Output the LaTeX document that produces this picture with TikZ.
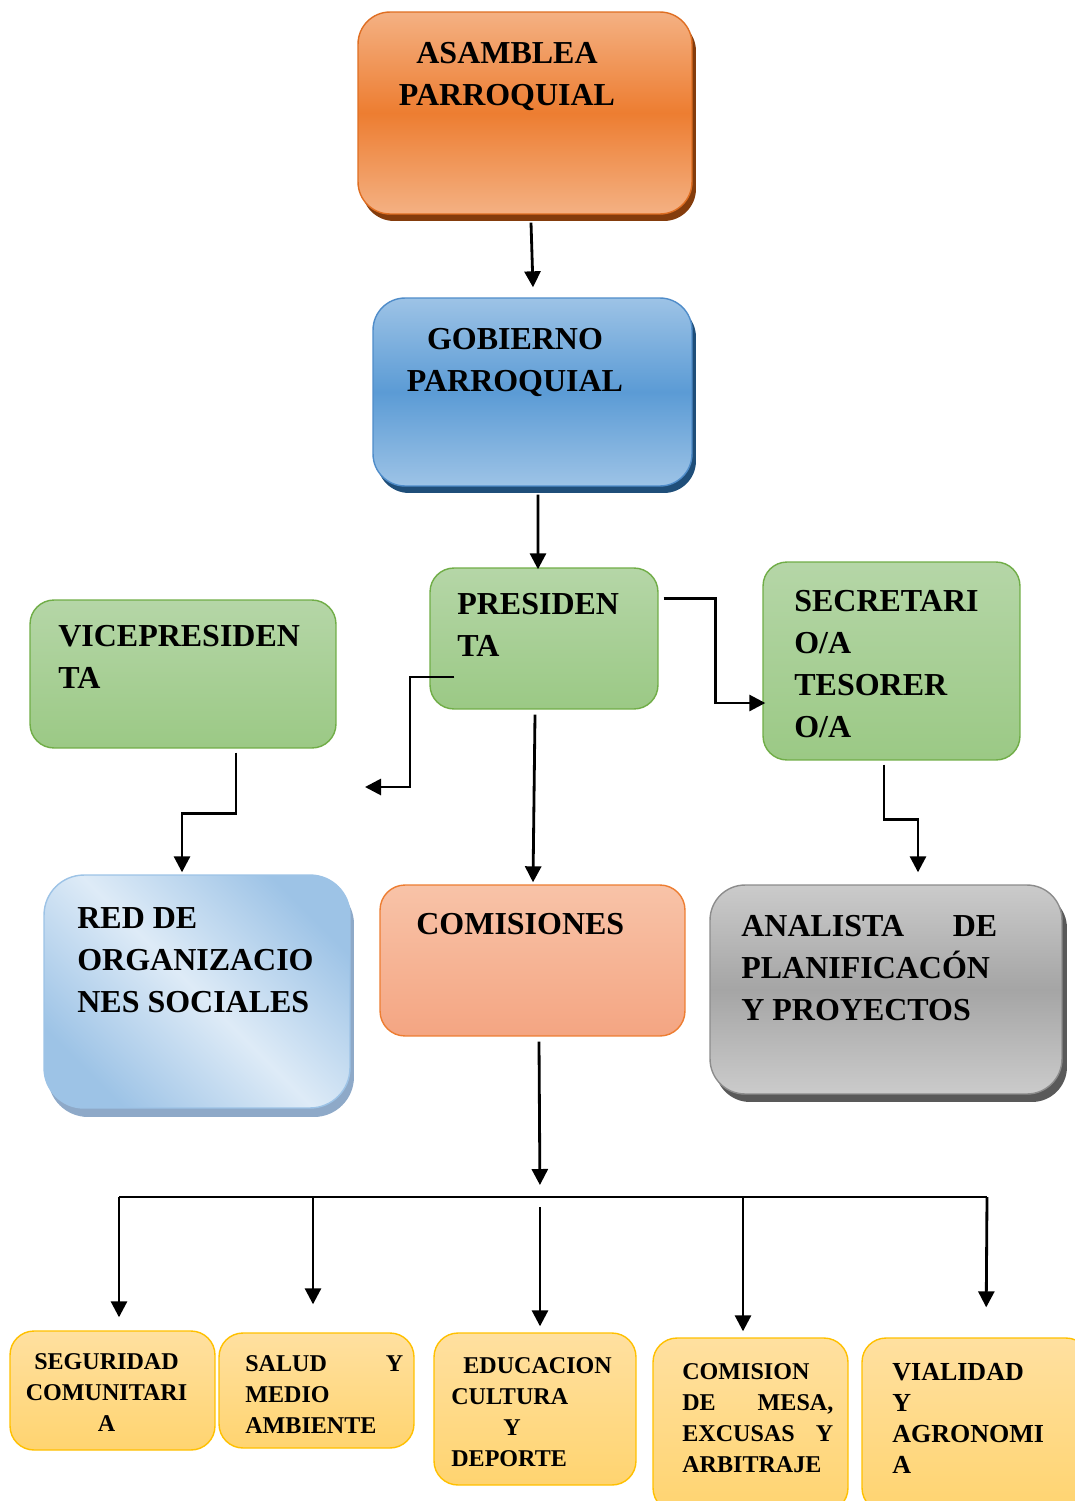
\documentclass[tikz,border=0pt]{standalone}
\usepackage{fontspec}
\setmainfont{Liberation Serif}
\usetikzlibrary{arrows.meta,calc,shadows}

\definecolor{naranjaClaro}{HTML}{F4B183}
\definecolor{naranja}{HTML}{ED7D31}
\definecolor{naranjaBorde}{HTML}{DF6E22}
\definecolor{naranjaSombra}{HTML}{843C0C}
\definecolor{azulClaro}{HTML}{9DC3E6}
\definecolor{azul}{HTML}{5B9BD5}
\definecolor{azulBorde}{HTML}{4F8CC9}
\definecolor{azulSombra}{HTML}{1F4E79}
\definecolor{verdeClaro}{HTML}{B5D6A7}
\definecolor{verde}{HTML}{9BC985}
\definecolor{verdeBorde}{HTML}{70AD47}
\definecolor{celeste}{HTML}{DEEBF7}
\definecolor{celesteOscuro}{HTML}{9DC3E6}
\definecolor{celesteSombra}{HTML}{8EA9C8}
\definecolor{salmonClaro}{HTML}{F8C3A8}
\definecolor{salmon}{HTML}{F4A582}
\definecolor{salmonBorde}{HTML}{ED7D31}
\definecolor{grisClaro}{HTML}{CBCBCB}
\definecolor{gris}{HTML}{A5A5A5}
\definecolor{grisBorde}{HTML}{8C8C8C}
\definecolor{grisSombra}{HTML}{595959}
\definecolor{amarilloClaro}{HTML}{FFE0A0}
\definecolor{amarillo}{HTML}{FFD470}
\definecolor{amarilloBorde}{HTML}{FFC000}

\begin{document}
\begin{tikzpicture}[x=0.02cm, y=-0.02cm,
    caja/.style={draw, inner sep=0pt, line width=0.8pt},
    cajaVerde/.style={caja, rounded corners=0.48cm, draw=verdeBorde, top color=verdeClaro, bottom color=verde},
    cajaAmarilla/.style={caja, rounded corners=0.48cm, draw=amarilloBorde, top color=amarilloClaro, bottom color=amarillo},
    conn/.style={line width=1.6pt, -{Triangle[length=0.32cm,width=0.32cm]}},
    linea/.style={line width=1.6pt},
    grande/.style={anchor=north west, inner sep=0pt, align=left, font=\fontsize{18.2}{23.9}\selectfont\bfseries},
    chica/.style={anchor=north west, inner sep=0pt, align=left, font=\fontsize{13.7}{17.6}\selectfont\bfseries}]
  \useasboundingbox (0,0) rectangle (1075,1501);

  % Cajas superiores
  \node[caja, rounded corners=0.64cm, minimum width=6.68cm, minimum height=4.04cm,
        draw=naranjaBorde, top color=naranjaClaro, bottom color=naranjaClaro, middle color=naranja,
        drop shadow={shadow xshift=0.08cm, shadow yshift=-0.14cm, fill=naranjaSombra, opacity=1}]
        (asamblea) at (525,113) {};
  \node[caja, rounded corners=0.64cm, minimum width=6.38cm, minimum height=3.76cm,
        draw=azulBorde, top color=azulClaro, bottom color=azulClaro, middle color=azul,
        drop shadow={shadow xshift=0.08cm, shadow yshift=-0.14cm, fill=azulSombra, opacity=1}]
        (gobierno) at (532.5,392) {};
  \node[cajaVerde, minimum width=4.56cm, minimum height=2.82cm] (presidenta) at (544,638.5) {};
  \node[cajaVerde, minimum width=6.12cm, minimum height=2.96cm] (vice) at (183,674) {};
  \node[cajaVerde, minimum width=5.14cm, minimum height=3.96cm] (secretaria) at (891.5,661) {};

  % Cajas del medio
  \node[caja, rounded corners=0.8cm, minimum width=6.12cm, minimum height=4.66cm,
        draw=celesteOscuro, top color=celesteOscuro, bottom color=celesteOscuro, middle color=celeste,
        shading angle=-45,
        drop shadow={shadow xshift=0.08cm, shadow yshift=-0.18cm, fill=celesteSombra, opacity=1}]
        (redorg) at (197,991.5) {};
  \node[caja, rounded corners=0.5cm, minimum width=6.1cm, minimum height=3.02cm,
        draw=salmonBorde, top color=salmonClaro, bottom color=salmon]
        (comisiones) at (532.5,960.5) {};
  \node[caja, rounded corners=0.7cm, minimum width=7.04cm, minimum height=4.18cm,
        draw=grisBorde, top color=grisClaro, bottom color=grisClaro, middle color=gris,
        drop shadow={shadow xshift=0.1cm, shadow yshift=-0.16cm, fill=grisSombra, opacity=1}]
        (analista) at (886,989.5) {};

  % Comisiones
  \node[cajaAmarilla, minimum width=4.1cm, minimum height=2.38cm] (seguridad) at (112.5,1390.5) {};
  \node[cajaAmarilla, minimum width=3.9cm, minimum height=2.3cm] (salud) at (316.5,1390.5) {};
  \node[cajaAmarilla, minimum width=4.04cm, minimum height=3.04cm] (educacion) at (535,1409) {};
  \node[cajaAmarilla, minimum width=3.9cm, minimum height=3.48cm] (comision) at (750.5,1425) {};
  \node[cajaAmarilla, minimum width=4.56cm, minimum height=3.48cm] (vialidad) at (976,1425) {};

  % Textos
  \node[grande, align=center, anchor=north] (asamblea-t) at (507,42) {ASAMBLEA\\PARROQUIAL};
  \node[grande, align=center, anchor=north] (gobierno-t) at (515,328) {GOBIERNO\\PARROQUIAL};
  \node[grande] (presidenta-t) at (457,593) {PRESIDEN\\TA};
  \node[grande] (vice-t) at (58,625) {VICEPRESIDEN\\TA};
  \node[grande] (secretaria-t) at (794,590) {SECRETARI\\O/A\\TESORER\\O/A};
  \node[grande] (redorg-t) at (77,907) {RED DE\\ORGANIZACIO\\NES SOCIALES};
  \node[grande] (comisiones-t) at (416,913) {COMISIONES};
  \node[grande] (analista-t) at (741,915) {\makebox[5.12cm][l]{ANALISTA\hfill DE}\\PLANIFICACÓN\\Y PROYECTOS};
  \node[chica, align=center, anchor=north] (seguridad-t) at (106.5,1353) {SEGURIDAD\\COMUNITARI\\A};
  \node[chica] (salud-t) at (245,1355) {\makebox[3.16cm][l]{SALUD\hfill Y}\\MEDIO\\AMBIENTE};
  \node[chica] (educacion-t) at (451,1357) {\hspace{0.24cm}EDUCACION\\CULTURA\\\hspace{1.04cm}Y\\DEPORTE};
  \node[chica] (comision-t) at (682,1363) {COMISION\\\makebox[3.02cm][l]{DE\hfill MESA,}\\\makebox[3.02cm][l]{EXCUSAS\hfill Y}\\ARBITRAJE};
  \node[chica, font=\fontsize{14.8}{17.6}\selectfont\bfseries] (vialidad-t) at (892,1363) {VIALIDAD\\Y\\AGRONOMI\\A};

  % Conectores
  \coordinate (vacio) at (365,787);
  \coordinate (b1) at (119,1197);
  \coordinate (b2) at (313,1197);
  \coordinate (b3) at (540,1197);
  \coordinate (b4) at (743,1197);
  \coordinate (b5) at (987,1197);

  \draw[conn] ($(asamblea.south)+(6,8)$) -- ($(gobierno.north)+(0.5,-10)$);
  \draw[conn] ($(gobierno.south)+(5.5,8)$) -- ($(presidenta.north)+(-6,2)$);
  \draw[conn] ($(presidenta.north east)+(5,31)$) -- ++(52,0) |- ($(secretaria.west)+(3,42)$);
  \draw[conn] ($(presidenta.west)+(25,38.5)$) -| ($(vacio)+(45,0)$) -- (vacio);
  \draw[conn] ($(presidenta.south)+(-9,5)$) -- ($(comisiones.north)+(0.5,-2)$);
  \draw[conn] ($(vice.south)+(53,4)$) -- ++(0,61) -| ($(redorg.north)+(-15,-2)$);
  \draw[conn] ($(secretaria.south)+(-7.5,4)$) -- ++(0,55) -| ($(analista.north)+(32,-12)$);
  \draw[conn, shorten >=0.24cm] ($(comisiones.south)+(6.5,5)$) -- (b3);

  % Barra de comisiones
  \draw[linea] (b1) -- (b5);
  \draw[conn, shorten >=0.26cm] (b1) -- (b1 |- seguridad.north);
  \draw[conn, shorten >=0.56cm] (b2) -- (b2 |- salud.north);
  \draw[conn, shorten <=0.2cm, shorten >=0.12cm] (b3) -- (b3 |- educacion.north);
  \draw[conn, shorten >=0.12cm] (b4) -- (b4 |- comision.north);
  \draw[conn, shorten >=0.6cm] (b5) -- ($(b5 |- vialidad.north)+(-1,0)$);
\end{tikzpicture}
\end{document}
